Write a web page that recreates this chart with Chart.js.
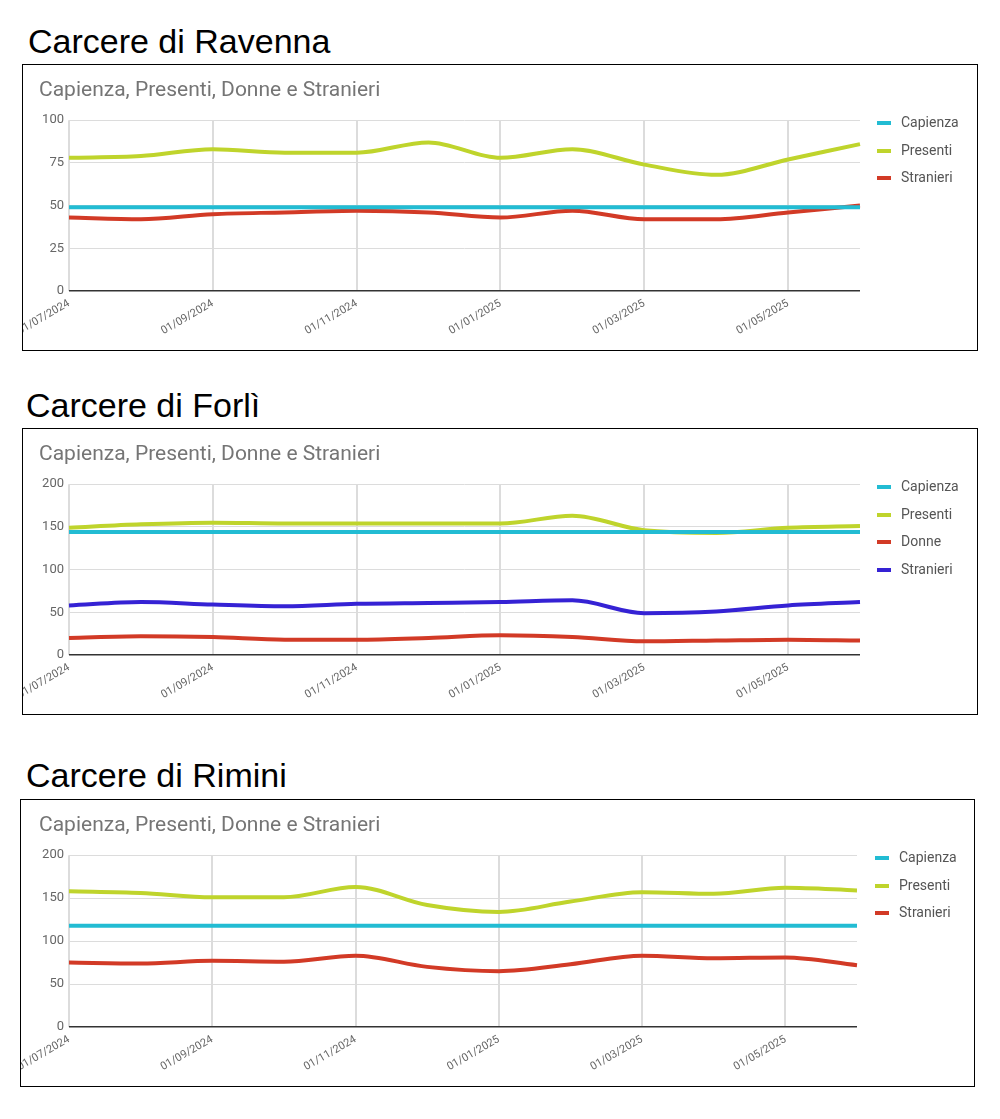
<!DOCTYPE html>
<html><head><meta charset="utf-8">
<script src="https://cdn.jsdelivr.net/npm/chart.js@4"></script>
<style>
body{margin:0;background:#fff;font-family:"Liberation Sans",Arial,sans-serif;}
h2{position:absolute;margin:0;font-weight:normal;font-size:34px;color:#000;}
.box{position:absolute;border:1px solid #000;box-sizing:border-box;overflow:hidden;}
.leg{position:absolute;left:854px;top:49px;font-family:Roboto;font-size:14px;color:#555;}
.leg div{height:27.5px;display:flex;align-items:flex-start;}
.leg span.sw{display:inline-block;width:14px;height:4px;margin:7px 10px 0 0;}
</style></head><body>
<h2 style="left:28px;top:22px">Carcere di Ravenna</h2>
<div class="box" style="left:22px;top:64px;width:956px;height:287px"><canvas id="c1"></canvas><div class="leg" id="l1"></div></div>
<h2 style="left:26px;top:386px">Carcere di Forlì</h2>
<div class="box" style="left:22px;top:428px;width:956px;height:287px"><canvas id="c2"></canvas><div class="leg" id="l2"></div></div>
<h2 style="left:26px;top:756px">Carcere di Rimini</h2>
<div class="box" style="left:20px;top:799px;width:955px;height:288px"><canvas id="c3"></canvas><div class="leg" id="l3"></div></div>
<script>
const months=["01/07/2024","01/08/2024","01/09/2024","01/10/2024","01/11/2024","01/12/2024","01/01/2025","01/02/2025","01/03/2025","01/04/2025","01/05/2025","01/06/2025"];
const ravCapienza=[49,49,49,49,49,49,49,49,49,49,49,49];
const ravPresenti=[78,79,83,81,81,87,78,83,74,68,77,86];
const ravStranieri=[43,42,45,46,47,46,43,47,42,42,46,50];
const forCapienza=[144,144,144,144,144,144,144,144,144,144,144,144];
const forPresenti=[149,153,155,154,154,154,154,163,146,143,149,151];
const forDonne=[20,22,21,18,18,20,23,21,16,17,18,17];
const forStranieri=[58,62,59,57,60,61,62,64,49,51,58,62];
const rimCapienza=[118,118,118,118,118,118,118,118,118,118,118,118];
const rimPresenti=[158,156,151,151,163,142,134,146,157,155,162,159];
const rimStranieri=[75,74,77,76,83,70,65,73,83,80,81,72];
const C={cap:"#22bcd3",pres:"#bfd42c",red:"#d23a26",blue:"#3522d4"};
function ds(label,data,color){return {label,data,borderColor:color,backgroundColor:color,borderWidth:4,pointRadius:0,tension:0.4,cubicInterpolationMode:'monotone'};}
function make(id,lid,sets,max,step,left){
 document.getElementById(lid).innerHTML=sets.map(s=>`<div><span class="sw" style="background:${s.borderColor}"></span>${s.label}</div>`).join('');
 new Chart(document.getElementById(id),{type:'line',data:{labels:months,datasets:sets},
 options:{responsive:true,maintainAspectRatio:false,animation:false,
  layout:{padding:{left:left,right:117,top:0,bottom:0}},
  plugins:{title:{display:true,text:'Capienza, Presenti, Donne e Stranieri',align:'start',color:'#757575',font:{family:'Roboto',size:21,weight:'normal'},padding:{top:13,bottom:17}},
   legend:{display:false}},
  scales:{x:{offset:false,grid:{color:(c)=>c.index%2===0?'#dcdcdc':'rgba(0,0,0,0)',drawTicks:false,lineWidth:2},border:{display:false},
    afterFit(s){s.paddingLeft=0;s.paddingRight=0;s.height=59;},
    ticks:{autoSkip:false,maxRotation:30,minRotation:30,color:'#666',font:{family:'Roboto',size:11},padding:6,callback:(v,i)=>i%2===0?months[i]:''}},
   y:{min:0,max:max,afterFit(s){s.width=30;},grid:{color:(c)=>c.tick.value===0?'#333':'#dcdcdc',drawTicks:false,lineWidth:(c)=>c.tick.value===0?1.5:1},border:{display:false},
    ticks:{stepSize:step,color:'#666',font:{family:'Roboto',size:13},padding:5}}}}});
}
make('c1','l1',[ds('Capienza',ravCapienza,C.cap),ds('Presenti',ravPresenti,C.pres),ds('Stranieri',ravStranieri,C.red)],100,25,16);
make('c2','l2',[ds('Capienza',forCapienza,C.cap),ds('Presenti',forPresenti,C.pres),ds('Donne',forDonne,C.red),ds('Stranieri',forStranieri,C.blue)],200,50,16);
make('c3','l3',[ds('Capienza',rimCapienza,C.cap),ds('Presenti',rimPresenti,C.pres),ds('Stranieri',rimStranieri,C.red)],200,50,18);
</script></body></html>
